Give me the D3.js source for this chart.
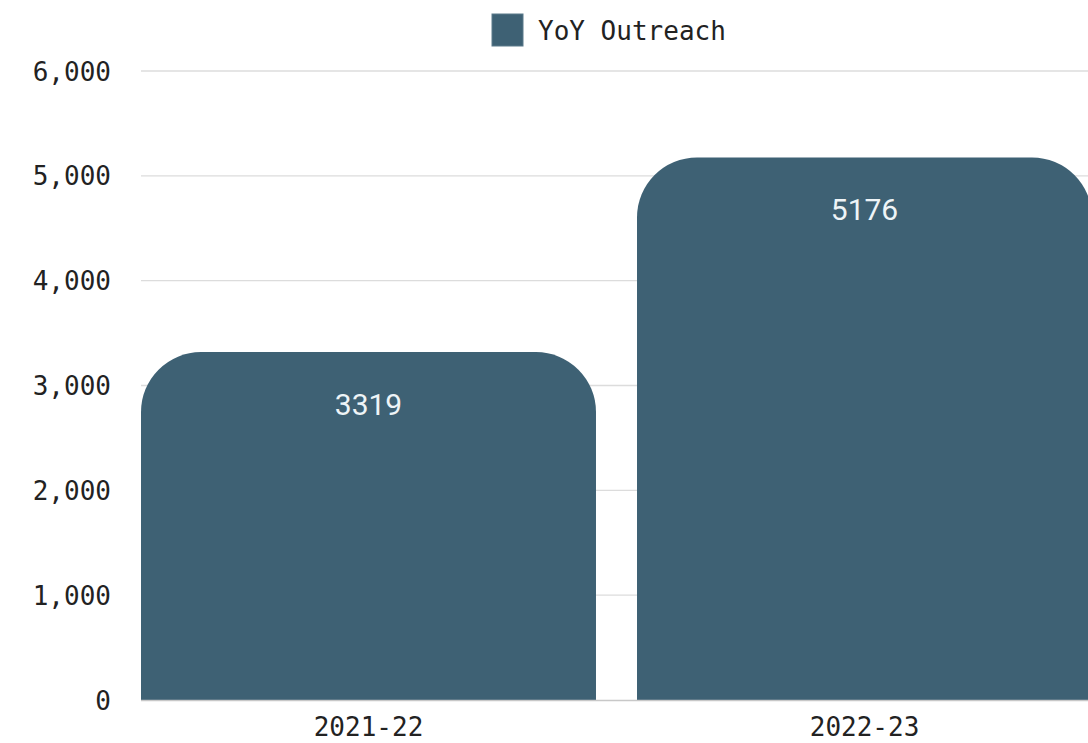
<!DOCTYPE html>
<html>
<head>
<meta charset="utf-8">
<script src="https://cdn.jsdelivr.net/npm/d3@7"></script>
<style>
  html, body { margin: 0; padding: 0; background: #fff; overflow: hidden; }
  svg { display: block; }
</style>
</head>
<body>
<svg id="chart" width="1088" height="743"></svg>
<script>
const categories = ["2021-22", "2022-23"];
const values = [3319, 5176];
const seriesName = "YoY Outreach";
const yTicks = [0, 1000, 2000, 3000, 4000, 5000, 6000];

const W = 1088, H = 743;
const margin = { left: 141, top: 71, bottom: 43 };
const svg = d3.select("#chart");
const mono = "'DejaVu Sans Mono', 'Liberation Mono', monospace";
const barColor = "#3e6174";

const x = d3.scaleBand().domain(categories).range([141, 1092]).paddingInner(0.0827).paddingOuter(0);
const y = d3.scaleLinear().domain([0, 6000]).range([700, 71]);

// gridlines
svg.append("g").selectAll("line").data(yTicks.filter(d => d > 0)).join("line")
  .attr("x1", 141).attr("x2", W)
  .attr("y1", d => y(d)).attr("y2", d => y(d))
  .attr("stroke", "#dcdcdc").attr("stroke-width", 1.3);

// y axis labels
const yAxis = d3.axisLeft(y).tickValues(yTicks).tickSize(0).tickPadding(0).tickFormat(d3.format(","));
const yg = svg.append("g").attr("transform", "translate(111,0)").call(yAxis);
yg.select(".domain").remove();
yg.selectAll("text").attr("font-family", mono).attr("font-size", 26).attr("fill", "#222").attr("dy", "0.35em");

// bars with rounded top corners
const r = 60;
function barPath(d, i) {
  const x0 = x(categories[i]), x1 = x0 + x.bandwidth();
  const yt = y(d), yb = y(0);
  return `M${x0},${yb} L${x0},${yt + r} A${r},${r} 0 0 1 ${x0 + r},${yt} L${x1 - r},${yt} A${r},${r} 0 0 1 ${x1},${yt + r} L${x1},${yb} Z`;
}
svg.append("g").selectAll("path").data(values).join("path")
  .attr("d", barPath).attr("fill", barColor);

// baseline
svg.append("line").attr("x1", 141).attr("x2", W).attr("y1", y(0) + 0.5).attr("y2", y(0) + 0.5)
  .attr("stroke", "#c8c8c8").attr("stroke-width", 1.5);

// value labels
svg.append("g").selectAll("text").data(values).join("text")
  .attr("x", (d, i) => x(categories[i]) + x.bandwidth() / 2)
  .attr("y", d => y(d) + 52)
  .attr("text-anchor", "middle").attr("dominant-baseline", "central")
  .attr("font-family", "Roboto, 'Noto Sans', sans-serif").attr("font-size", 30)
  .attr("fill", "#eef4f7").text(d => d);

// x axis labels
const xAxis = d3.axisBottom(x).tickSize(0).tickPadding(0);
const xg = svg.append("g").attr("transform", "translate(0,727)").call(xAxis);
xg.select(".domain").remove();
xg.selectAll("text").attr("font-family", mono).attr("font-size", 26).attr("fill", "#222").attr("dy", "0.35em");

// legend
const lg = svg.append("g");
lg.append("rect").attr("x", 492).attr("y", 14).attr("width", 31).attr("height", 32)
  .attr("fill", barColor).attr("stroke", "#5a7a8a").attr("stroke-width", 1);
lg.append("text").attr("x", 538).attr("y", 31).attr("dominant-baseline", "central")
  .attr("font-family", mono).attr("font-size", 26).attr("fill", "#222").text(seriesName);
</script>
</body>
</html>
